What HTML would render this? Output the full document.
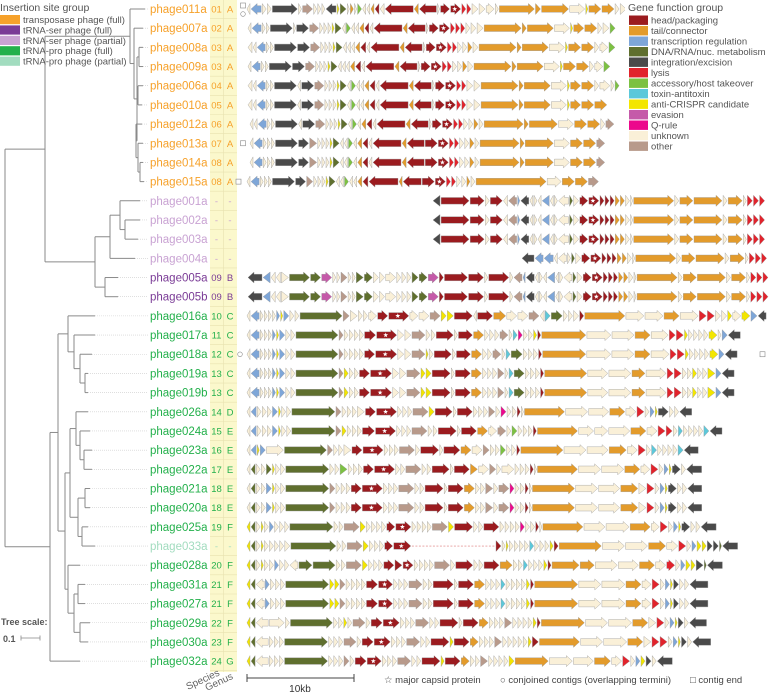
<!DOCTYPE html>
<html><head><meta charset="utf-8">
<style>
body{margin:0;background:#fff;font-family:"Liberation Sans",sans-serif;}
svg{display:block}
text{font-family:"Liberation Sans",sans-serif}
</style></head>
<body>
<svg id="fig" width="777" height="693" viewBox="0 0 777 693" xmlns="http://www.w3.org/2000/svg">
<g id="tree"></g>
<g id="cols"></g>
<g id="labels"></g>
<g id="genes"></g>
<g id="legends"></g>
</svg>
<script>
const phageNames = ["phage011a","phage007a","phage008a","phage009a","phage006a","phage010a","phage012a","phage013a","phage014a","phage015a","phage001a","phage002a","phage003a","phage004a","phage005a","phage005b","phage016a","phage017a","phage018a","phage019a","phage019b","phage026a","phage024a","phage023a","phage022a","phage021a","phage020a","phage025a","phage033a","phage028a","phage031a","phage027a","phage029a","phage030a","phage032a"];
const speciesIds = ["01","02","03","03","04","05","06","07","08","08","-","-","-","-","09","09","10","11","12","13","13","14","15","16","17","18","18","19","-","20","21","21","22","23","24"];
const genusIds = ["A","A","A","A","A","A","A","A","A","A","-","-","-","-","B","B","C","C","C","C","C","D","E","E","E","E","E","F","-","F","F","F","F","F","G"];
const insertionGroup = ["T","T","T","T","T","T","T","T","T","T","Sp","Sp","Sp","Sp","S","S","P","P","P","P","P","P","P","P","P","P","P","P","Pp","P","P","P","P","P","P"];
const genomeStart = [247,248,248,248,248,248,250,250,250,247,433,433,433,522,248,248,247,247,247,247,247,247,247,247,247,247,247,247,247,247,247,247,247,247,247];
const termMarks = [["sq","ci"],[],[],[],[],[],[],["sq"],[],["sq"],[],[],[],[],[],[],[],[],["sqR","ci"],[],[],[],[],[],[],[],[],[],[],[],[],[],[],[],[]];
const geneMaps = [
"u3< r10< u4> u4> i25> u3> o10> u3> u3> u3> i10< c2> d6> u2> t3> u2> a4> u3< u3< t3< h4< u4< h28< t4< h17< u2> h9> S10> l4> l4> u6> u6> u8> u3> t35> t5> t27> u15> c2> t12> t12> u4> u6> a5>",
"u3< r9< u3> u3> i22> u2> i12> o9> u3> u3> u3> c2> d6> u3< a4> u3< u3< t4< h4< u3< h28< t4< h17< u2> h9> S10> l4> l4> l4> u4> u5> u6> t37> t4> t26> u15> c2> t10> t12> u4> u6> a5>",
"u4< u3< r8< u3> u3> i22> i12> o9> u3> u3> u3> c2> d6> u3< u3< u3< t4< h5< u3< h28< t4< h17< u2> h9> S10> l4> l4> u4> u4> t4> u5> t37> t4> t26> u15> c2> t12> t12> u4> u8> a6>",
"u3< r8< u3> u3> i22> i12> o9> u3> u3> u3> c2> d6> u3< u3< u3< t4< h5< u3< h28< t4< h17< u2> h9> S10> l4> l4> u4> u4> t4> u5> t37> t4> t26> u15> c2> t12> t12> u4> u8> a6>",
"u4< u3< r8< u3> u3> i22> u3< i12> o9> u3> u3> u3> c2> d6> u3< a4> u3< u3< t4< h5< u3< h28< t4< h17< u2> h9> S10> l4> l4> u6> u6> t37> t4> t26> u15> c2> t10> t12> u4> u10> u3> a4>",
"u4< u3< r8< u3> u3> i22> u3< i12> o9> u3> u3> u3> c2> d6> u3< a4> u3< u3< t4< h5< u3< h28< t4< h17< u2> h9> S10> l4> l4> u6> u6> t37> t4> t26> u15> c2> t10> t12> t12>",
"u3< u3< r8< u3> u3> i22> u3< i12> o9> u3> u3> u3> c2> d6> u3< a4> u3< t4< h5< u3< h28< t4< h17< u2> h9> S10> l4> l4> u4> u4> t4> u4> t39> t4> t28> u15> t12> t12> u4> o8>",
"u3< r8< u3> u3> u3> i22> i10> o7> u3> u3> u3> c2> d6> u3< u3< a4> u3< t4< h5< u3< h28< t4< h17< h12> S10> l4> l4> u4> u4> t4> u4> t39> t4> t28> u15> t12> t12> o8>",
"u3< r8< u3> u3> u3> i22> i10> o7> u3> u3> u3> c2> d6> u3< u3< a4> u3< t4< h5< u3< h28< t4< h17< h12> S10> l4> l4> u4> u4> t4> u4> t39> t4> t28> u15> t12> t12> o8>",
"u3< r8< u3> u3> u3> i22> i10> o6> u3> u3> u3> c2> d6> u3< u3< a4> u3< u3< t4< h5< h29< t3< h18< h12> S10> l4> l4> u4> u4> t3> u4> t70> u14> t12> t12> o10>",
"i7< h28> h14> u4> h12> u4< o8< r2> i8< u3< u3> u3< r7< u3< u3> u10< d3> u5> h8> S10> h4> h4> h4> t4> t4> u4> u2> t40> u4> t13> t28> u4> t14> u3> l5> l5> l5>",
"i7< h28> h14> u4> h12> u4< o8< r2> i8< u3< u3> u3< r7< u3< u3> u10< d3> u5> h8> S10> h4> h4> h4> t4> t4> u4> u2> t40> u4> t13> t28> u4> t14> u3> l5> l5> l5>",
"i7< h28> h14> u4> h12> u4< o8< r2> i8< u3< u3> u3< r7< u3< u3> u10< d3> u5> h8> S10> h4> h4> h4> t4> t4> u4> u2> t40> u4> t13> t28> u4> t14> u3> l5> l5> l5>",
"i12< r8< r9< u3< u8< u3> d3> u5> h8> S10> h4> h4> h4> t4> t4> u4> u2> t40> u4> t13> t28> u4> t14> u3> l5> l5> l5>",
"i14< r7< u4< u4< u7> d20> d10> e10> u3> u3> o6> u3> u3> d7> d8> u5> u5> u10> u4> u4> u4> d6> d8> e10> h4> h23> h15> u3> h20> u3> o8< r2< i8< u3< u3> u3< r7< u3< u3> u8< d3> u5> h8> S10> h4> h4> h4> t4> t4> u4> u2> t40> u4> t13> t28> u4> t14> u3> l5> l5> l5>",
"i14< r7< u4< u4< u7> d20> d10> e10> u3> u3> o6> u3> u3> d7> d8> u5> u5> u10> u4> u4> u4> d6> d8> e10> h4> h23> h15> u3> h20> u3> o8< r2< i8< u3< u3> u3< r7< u3< u3> u8< d3> u5> h8> S10> h4> h4> h4> t4> t4> u4> u2> t40> u4> t13> t28> u4> t14> u3> l5> l5> l5>",
"u3< r8< u3> u3> u3> u3> r3> c2> r5> u4> u4> d42> o6> u7> u4> u4> u8> h10> S20> u8> u10> o10> c5> c6> h18> u3< h15> t12> u10> u10> o10> u4< x5> d11> u4> u4> u5> h4> t40> u18> u18> t15> u18> l7> l7> u5> u5> c4> u8> c8> r6> i8<",
"u3< r8< u3> u3> u3> r3> c2> r5> u4> u4> d42> o4> u4> u4> u4> u4> h11> S20> u6> u6> o13> u4> u4> h17> u3> h14> t10> u4> u4> u4> o8> u3> x4> q4> u4> u4> c3> h3> t44> u24> u22> t15> u17> l6> l7> c3> u4> u4> u4> u4> c8> u3> r5> i12<",
"u3< r8< u3> u3> u3> r3> c2> r5> u4> u4> d42> o4> u4> u4> u4> u4> h10> S21> u6> u6> o13> c2> u4> h17> u3> h14> t10> u4> u4> o8> u3> x4> d11> u4> u4> u4> h3> t43> u24> u22> t15> u18> l6> l7> c3> u4> u4> u4> u4> c8> r5> i12<",
"u3< r8< u3> u3> u3> r3> c2> r5> u4> u4> d42> o4> c4> u4> u4> h10> S21> u6> u6> o13> c4> c5> h18> u3> h15> t10> u4> u4> u4> o6> u3> x4> d10> u4> u4> u4> h3> t42> u20> u22> t13> u20> l6> l7> u4> u4> c4> u4> u4> c7> r5> i12<",
"u3< r8< u3> u3> u3> r3> c2> r5> u4> u4> d42> o4> c4> u4> u4> h10> S21> u6> u6> o13> c4> c5> h18> u3> h15> t10> u4> u4> u4> o6> u3> x4> d10> u4> u4> u4> h3> t42> u20> u22> t13> u20> l6> l7> u4> u4> c4> u4> u4> c7> r5> i12<",
"u3< r5< u4> u4> u4> r5> c2> u4> u4> d43> o5> u4> u4> u4> u7> h10> S20> u4> u4> u4> o15> c5> h17> u3> h15> u4> u4> u4> o6> u4> q5> u4> u4> h3> u2> t40> u22> u20> t15> u10> l7> u4> r4> c2> i10> u4> u4> i12<",
"u3< r5< u4> u4> u4> r5> c2> u4> u4> d43> o5> c4> u4> u4> u4> h12> S20> u4> u4> u4> o15> u4> u4> h18> u3> h15> t10> u8> o8> u4> a5> u4> u4> u4> h3> t40> u15> u13> u21> t15> u10> l7> l6> u4> x4> u4> u4> u4> u4> x5> i12<",
"u3< r5< c2> r5> u17> d42> o5> u4> u4> u7> h10> S20> u4> u4> u4> o15> u4> h18> u3> h16> t10> u10> o6> u4> u4> a5> u4> u4> h3> t42> u22> u21> t17> u10> l7> u4> x5> u4> u4> u4> u4> x5> i14<",
"u3< d4< u4> u4> d5> c2> u4> u4> d43> u4> u4> a7> u4> u4> u4> h10> S20> u4> u4> o15> u4> u4> h17> u3> h15> t7> u10> o6> u4> u12> u4> u4> u4> h3> u2> t40> u22> u22> t15> u9> l7> u4> r4> c2> i8> u4> i15<",
"u3< d4< u4> u4> r5> c2> u4> u4> d43> o5> u4> u4> u4> h10> S20> u4> u4> u4> o15> u4> u4> h18> u3> h15> t10> u4> u4> o7> u4> o10> q4> u4> u4> h3> u2> t42> u22> u21> t17> u7> l7> u4> r4> c2> i8> u4> u4> i14<",
"u3< d4< u4> u4> r5> c2> u4> u4> d43> o5> u4> u4> u4> h10> S20> u4> u4> u4> o15> u4> u4> h18> u3> h15> t10> u4> u4> o7> u4> o10> q4> u4> u4> h3> u2> t42> u22> u21> t17> u7> l7> u4> r4> c2> i8> u4> u4> i14<",
"c3< d4< u4> c2> u4> r4> u4> u4> u4> d43> u4> u4> o15> c5> u4> u4> u4> u4> h8> S15> u4> u4> u4> u4> o15> c5> h18> u4> u4> h15> u4> u4> u4> u4> q4> u4> u4> h3> u2> t40> u21> u23> t20> u8> l7> u4> r4> c2> i8> u4> u4> i15<",
"c3< d4< u4> c2> u4> u4> u4> u4> u5> d45> u4> u4> o15> c5> u4> u4> u4> h8> S17> g83 h5> u3> c2> u4> u4> u4> u4> x4> u4> u4> u4> c3> h4> t42> u22> u22> t17> u11> l7> u4> r4> c4> c4> i5> i5> d2> i15<",
"c3< d4< u4> c2> u4> u4> r4> u4> u4> u8< d13> d22> u4> u4> o15> c5> u4> u4> u4> h10> h7> S10> u4> u4> u4> u4> o15> u4> h17> u4> u4> h15> t12> u4> u4> x4> u4> u4> u4> c3> h3> t27> t14> u22> u20> t15> u10> l8> u4> r4> c4> c4> i7> d2> i15<",
"c3< d4< u8< r4> u4> u4> u4> d43> c4> c4> o5> u4> u4> u4> u4> h11> S14> u4> u4> u4> o13> u4> u4> h20> u3> h15> t10> u4> u4> u4> x4> u4> u4> u4> u4> c3> h3> t43> u22> u23> t15> u9> l7> u4> r4> c2> i5> u4> u4> i18<",
"c3< d4< u8< r4> u4> u4> u4> d43> c4> c4> o5> u4> u4> u4> u4> h11> S14> u4> u4> u4> o13> u4> u4> h20> u3> h15> t10> u4> u4> u4> x4> u4> u4> u4> u4> c3> h3> t43> u22> u23> t15> u9> l7> u4> r4> c2> i5> u4> u4> i18<",
"c3< d4< u12< u15> u4> d42> u4> u4> c3> u4> o12> u4> h11> S16> u4> u4> u4> o13> u4> u4> h18> u3> h15> t9> u4> u4> u4> o7> u4> u4> u4> u4> c3> h3> t43> u22> u23> t15> u7> l7> u4> r4> c2> i5> u4> i17<",
"c3< d4< u12< u4> u4> u4> d43> u4> u4> u4> o12> u4> h11> S16> u4> u4> u4> o13> u4> u4> h18> c3> h15> t8> u4> u4> u4> o7> u4> u4> u4> u4> u4> c3> h6> t40> u22> u23> t15> u7> l7> l7> u4> r4> c2> i5> u4> i18<",
"c3< d4< u12< u4> u4> u4> d43> u4> u4> u4> o5> u4> h11> S14> u4> u4> u4> o13> u4> u4> h18> c3> h15> t8> u4> u4> o7> u4> u4> u4> u4> c5> t33> u23> u20> t16> u10> l7> u4> r4> c4> i5> u4> i15<"
];
const geneCats = ["h","t","r","d","i","l","a","x","c","e","q","u","o"];
const geneCatNames = ["head/packaging","tail/connector","transcription regulation","DNA/RNA/nuc. metabolism","integration/excision","lysis","accessory/host takeover","toxin-antitoxin","anti-CRISPR candidate","evasion","Q-rule","unknown","other"];
const geneCatColors = ["#9b1b1f","#e39b2b","#7ea6d8","#5f6f2e","#4a4a4a","#e1232c","#7cc142","#5cc8da","#f3e600","#c55aa9","#ec088c","#faf0d8","#b89a8b"];
const insGroups = ["T","S","Sp","P","Pp"];
const insNames = ["transposase phage (full)","tRNA-ser phage (full)","tRNA-ser phage (partial)","tRNA-pro phage (full)","tRNA-pro phage (partial)"];
const insColors = ["#f6a12a","#7a3b96","#c9a3d3","#23b04b","#a2dcbf"];

const NS="http://www.w3.org/2000/svg";
function mk(tag,attrs,parent){const e=document.createElementNS(NS,tag);for(const k in attrs)e.setAttribute(k,attrs[k]);parent.appendChild(e);return e;}
const rowY = i => 9 + i*19.18;
const UNIT_PX = 1.0;
const xGene = (start,u) => start + u*UNIT_PX;
const GAP = 1.1;

const tree = {x:5,c:[
  {x:45,c:[
    {x:130,c:[{leaf:0,x:145},{x:134,c:[{leaf:1,x:143},{x:137,c:[{x:139,c:[{leaf:2,x:143},{leaf:3,x:143}]},{x:138,c:[{leaf:4,x:143},{leaf:5,x:142}]},{x:136,c:[{leaf:6,x:142},{x:138,c:[{leaf:7,x:143},{x:140,c:[{leaf:8,x:143},{leaf:9,x:144}]}]}]}]}]}]},
    {x:95,c:[{x:110,c:[{x:120,c:[{leaf:10,x:140},{x:125,c:[{leaf:11,x:140},{leaf:12,x:138}]}]},{leaf:13,x:135}]},{x:105,c:[{leaf:14,x:118},{leaf:15,x:118}]}]}
  ]},
  {x:50,c:[
    {x:58,c:[
      {x:68,c:[{leaf:16,x:95},{x:74,c:[{leaf:17,x:95},{x:80,c:[{leaf:18,x:92},{x:85,c:[{leaf:19,x:88},{leaf:20,x:88}]}]}]}]},
      {x:65,c:[
        {x:70,c:[{x:76,c:[{leaf:21,x:88},{x:80,c:[{leaf:22,x:90},{x:84,c:[{leaf:23,x:92},{leaf:24,x:92}]}]}]},{x:78,c:[{x:85,c:[{leaf:25,x:90},{leaf:26,x:90}]},{x:82,c:[{leaf:27,x:88},{leaf:28,x:95}]}]}]},
        {x:68,c:[{leaf:29,x:80},{x:74,c:[{x:78,c:[{leaf:30,x:85},{leaf:31,x:85}]},{x:80,c:[{leaf:32,x:90},{leaf:33,x:88}]}]}]}
      ]}
    ]},
    {leaf:34,x:80}
  ]}
]};
const tg=document.getElementById('tree');
function layout(n){ if(n.leaf!==undefined){n.y=rowY(n.leaf);return n.y;} const ys=n.c.map(layout); n.y=(ys[0]+ys[ys.length-1])/2; return n.y; }
layout(tree);
function drawTree(n,px){
  if(px!==undefined){const h=mk('line',{x1:px,y1:n.y,x2:n.x,y2:n.y,stroke:'#8a8a8a','stroke-width':1},tg);
    
    }
  if(n.leaf!==undefined){const d=mk('line',{x1:n.x,y1:n.y,x2:148,y2:n.y,stroke:'#ccc','stroke-width':0.6,'stroke-dasharray':'1,1'},tg);
    
    return;}
  const v=mk('line',{x1:n.x,y1:n.c[0].y,x2:n.x,y2:n.c[n.c.length-1].y,stroke:'#8a8a8a','stroke-width':1},tg);
  
  
  n.c.forEach(c=>drawTree(c,n.x));
}
drawTree(tree);

const cg=document.getElementById('cols');
const colBg=mk('rect',{x:210,y:0,width:27,height:672,fill:'#fbf8cc'},cg);


mk('line',{x1:223.5,y1:0,x2:223.5,y2:672,stroke:'#e8e2b0','stroke-width':0.6},cg);
const lg=document.getElementById('labels');
phageNames.forEach((nm,i)=>{
  const y=rowY(i);
  const col=insColors[insGroups.indexOf(insertionGroup[i])];
  mk('line',{x1:210,y1:y+9.6,x2:237,y2:y+9.6,stroke:'#e8e2b0','stroke-width':0.6},cg);
  const t=mk('text',{x:150,y:y+4,'font-size':11.5,fill:col},lg); t.textContent=nm;
  
  
  const s=mk('text',{x:216.5,y:y+3.5,'font-size':9.5,fill:col,'text-anchor':'middle'},lg); s.textContent=speciesIds[i];
  
  
  const g=mk('text',{x:230,y:y+3.5,'font-size':9.5,fill:col,'text-anchor':'middle'},lg); g.textContent=genusIds[i];
  
  
});

const gg=document.getElementById('genes');
function arrow(x0,x1,y,dir,color,star){
  const L=x1-x0, H=5.5, B=3.3, hl=Math.min(6,L);
  let pts;
  if(L<=7){ pts = dir==='>'?[[x0,y-H],[x1,y],[x0,y+H]]:[[x1,y-H],[x0,y],[x1,y+H]]; }
  else if(dir==='>'){ pts=[[x0,y-B],[x1-hl,y-B],[x1-hl,y-H],[x1,y],[x1-hl,y+H],[x1-hl,y+B],[x0,y+B]]; }
  else { pts=[[x1,y-B],[x0+hl,y-B],[x0+hl,y-H],[x0,y],[x0+hl,y+H],[x0+hl,y+B],[x1,y+B]]; }
  const p=mk('polygon',{points:pts.map(q=>q[0].toFixed(1)+','+q[1].toFixed(1)).join(' '),fill:color,stroke:'#9a9a9a','stroke-width':0.4},gg);
  
  
  if(star){const cx=(x0+x1)/2-1,r=2.6,ri=1.1;let sp=[];for(let k=0;k<10;k++){const a=-Math.PI/2+k*Math.PI/5,rr=k%2?ri:r;sp.push((cx+rr*Math.cos(a)).toFixed(1)+','+(y+rr*Math.sin(a)).toFixed(1));}
    const st=mk('polygon',{points:sp.join(' '),fill:'#fff'},gg);
    
    }
}
geneMaps.forEach((m,i)=>{
  const y=rowY(i); let u=0; const s=genomeStart[i];
  m.trim().split(/\s+/).forEach(tok=>{
    const cat=tok[0];
    const len=parseFloat(tok.slice(1));
    if(cat==='g'){const dl=mk('line',{x1:xGene(s,u),y1:y,x2:xGene(s,u+len),y2:y,stroke:'#d77','stroke-width':0.7,'stroke-dasharray':'2,1.5'},gg);
      
      
      u+=len+GAP;return;}
    const dir=tok[tok.length-1];
    const c = cat==='S'?'h':cat;
    arrow(xGene(s,u),xGene(s,u+len),y,dir,geneCatColors[geneCats.indexOf(c)],cat==='S');
    u+=len+GAP;
  });
  (termMarks[i]||[]).forEach((mkr,k)=>{
    if(mkr==='sq'){const r=mk('rect',{x:i===9?236:240.5,y:y-(termMarks[i].length>1?6:2.5),width:5,height:5,fill:'#fff',stroke:'#888','stroke-width':0.6},gg);}
    if(mkr==='sqR'){const r=mk('rect',{x:760,y:y-2.5,width:5,height:5,fill:'#fff',stroke:'#888','stroke-width':0.6},gg);}
    if(mkr==='ci'){const c=mk('circle',{cx:i===18?240:243,cy:i===18?y:y+5,r:2.3,fill:'#fff',stroke:'#888','stroke-width':0.6},gg);}
  });
});

const L=document.getElementById('legends');
const lb1=mk('rect',{x:625,y:0,width:152,height:150,fill:'#fff'},L);


const t1=mk('text',{x:0,y:11,'font-size':10.5,fill:'#555'},L);t1.textContent='Insertion site group';


insNames.forEach((n,k)=>{
  const y=15+k*10.4;
  const r=mk('rect',{x:0,y:y,width:20,height:9.2,fill:insColors[k]},L);
  
  
  const t=mk('text',{x:23,y:y+8,'font-size':9.5,fill:'#555'},L);t.textContent=n;
  
  
});
const t2=mk('text',{x:628,y:11,'font-size':10.5,fill:'#555'},L);t2.textContent='Gene function group';


geneCatNames.forEach((n,k)=>{
  const y=15.5+k*10.5;
  const r=mk('rect',{x:629,y:y,width:19,height:9.4,fill:geneCatColors[k]},L);
  
  
  const t=mk('text',{x:651,y:y+8,'font-size':9.5,fill:'#555'},L);t.textContent=n;
  
  
});
const ts=mk('text',{x:1,y:625,'font-size':9,'font-weight':'bold',fill:'#555'},L);ts.textContent='Tree scale:';


const tv=mk('text',{x:3,y:642,'font-size':9,'font-weight':'bold',fill:'#555'},L);tv.textContent='0.1';


mk('line',{x1:21,y1:638,x2:40,y2:638,stroke:'#888','stroke-width':0.8},L);
mk('line',{x1:21,y1:635.5,x2:21,y2:640.5,stroke:'#888','stroke-width':0.8},L);
mk('line',{x1:40,y1:635.5,x2:40,y2:640.5,stroke:'#888','stroke-width':0.8},L);
const sp=mk('text',{x:188,y:690,'font-size':10,fill:'#666',transform:'rotate(-25 188 690)'},L);sp.textContent='Species';


const gn=mk('text',{x:207,y:691,'font-size':10,fill:'#666',transform:'rotate(-25 207 691)'},L);gn.textContent='Genus';


mk('line',{x1:247,y1:678,x2:354,y2:678,stroke:'#444','stroke-width':1},L);
mk('line',{x1:247,y1:674,x2:247,y2:682,stroke:'#444','stroke-width':1},L);
mk('line',{x1:354,y1:674,x2:354,y2:682,stroke:'#444','stroke-width':1},L);
const kb=mk('text',{x:300,y:692,'font-size':10,fill:'#333','text-anchor':'middle'},L);kb.textContent='10kb';


const l1=mk('text',{x:384,y:683,'font-size':9.5,fill:'#444'},L);l1.textContent='☆ major capsid protein';


const l2=mk('text',{x:500,y:683,'font-size':9.5,fill:'#444'},L);l2.textContent='○ conjoined contigs (overlapping termini)';


const l3=mk('text',{x:690,y:683,'font-size':9.5,fill:'#444'},L);l3.textContent='□ contig end';


</script>
</body></html>
